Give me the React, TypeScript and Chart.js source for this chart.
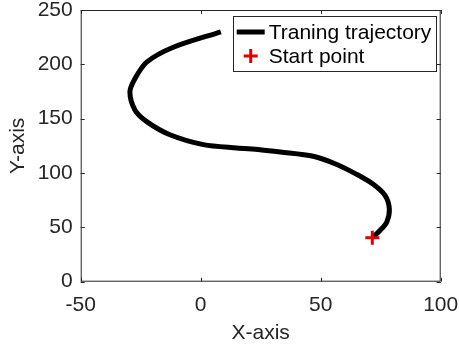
import React, { useEffect, useRef } from "react";
import { Chart, registerables } from "chart.js";

Chart.register(...registerables);

const trajX = [71.5, 74.7, 77.5, 78.6, 76.8, 71.9, 65.0, 56.7, 46.9, 33.2, 24.7, 15.0, 1.1, -12.8, -22.5, -27.4, -29.5, -27.4, -22.5, -11.4, 8.4];
const trajY = [40.4, 47.1, 54.7, 66.9, 79.4, 89.7, 98.8, 107.9, 115.4, 119.4, 121.5, 123.0, 126.1, 135.2, 147.3, 158.0, 174.7, 186.8, 202.0, 215.7, 229.9];
const startX = [71.5];
const startY = [40.4];
const xTicks = [-50, 0, 50, 100];
const yTicks = [0, 50, 100, 150, 200, 250];
const legendLabels = ["Traning trajectory", "Start point"];

const FONT = "'Liberation Sans', Arial, Helvetica, sans-serif";
const AXIS = "#262626";
const RED = "#e00000";

const boxPlugin = {
  id: "matlabBox",
  afterDraw(chart: any) {
    const { ctx, chartArea } = chart;
    const { left, right, top, bottom } = chartArea;
    const xs = chart.scales.x;
    const ys = chart.scales.y;
    ctx.save();
    ctx.strokeStyle = AXIS;
    ctx.lineWidth = 1;
    ctx.strokeRect(left + 0.5, top + 0.5, right - left - 1, bottom - top - 1);
    const tl = 4;
    ctx.beginPath();
    xTicks.forEach((v) => {
      const px = Math.round(xs.getPixelForValue(v)) + 0.5;
      ctx.moveTo(px, bottom);
      ctx.lineTo(px, bottom - tl);
      ctx.moveTo(px, top);
      ctx.lineTo(px, top + tl);
    });
    yTicks.forEach((v) => {
      const py = Math.round(ys.getPixelForValue(v)) + 0.5;
      ctx.moveTo(left, py);
      ctx.lineTo(left + tl, py);
      ctx.moveTo(right, py);
      ctx.lineTo(right - tl, py);
    });
    ctx.stroke();

    // legend
    const bw = 203;
    const bh = 55;
    const bx = right - 5 - bw;
    const by = top + 6;
    ctx.fillStyle = "#ffffff";
    ctx.fillRect(bx, by, bw, bh);
    ctx.strokeStyle = AXIS;
    ctx.strokeRect(Math.round(bx) + 0.5, Math.round(by) + 0.5, bw, bh);
    const r1 = by + 16;
    const r2 = by + 40;
    ctx.strokeStyle = "#000";
    ctx.lineWidth = 5;
    ctx.beginPath();
    ctx.moveTo(bx + 4, r1);
    ctx.lineTo(bx + 32, r1);
    ctx.stroke();
    ctx.strokeStyle = RED;
    ctx.lineWidth = 3;
    ctx.beginPath();
    const cx = bx + 18;
    ctx.moveTo(cx - 7, r2);
    ctx.lineTo(cx + 7, r2);
    ctx.moveTo(cx, r2 - 7);
    ctx.lineTo(cx, r2 + 7);
    ctx.stroke();
    ctx.fillStyle = "#000";
    ctx.font = `21px ${FONT}`;
    ctx.textBaseline = "middle";
    ctx.textAlign = "left";
    ctx.fillText(legendLabels[0], bx + 36, r1 + 1);
    ctx.fillText(legendLabels[1], bx + 36, r2 + 1);
    ctx.restore();
  },
};

export default function App() {
  const ref = useRef<HTMLCanvasElement | null>(null);
  useEffect(() => {
    document.body.style.margin = "0";
    document.body.style.overflow = "hidden";
    const canvas = ref.current!;
    const chart = new Chart(canvas, {
      type: "scatter",
      data: {
        datasets: [
          {
            label: legendLabels[0],
            data: trajX.map((x, i) => ({ x, y: trajY[i] })),
            showLine: true,
            borderColor: "#000",
            backgroundColor: "#000",
            borderWidth: 5,
            pointRadius: 0,
            tension: 0.3,
            borderCapStyle: "butt",
            borderJoinStyle: "round",
            order: 1,
          },
          {
            label: legendLabels[1],
            data: startX.map((x, i) => ({ x, y: startY[i] })),
            showLine: false,
            pointStyle: "cross",
            pointRadius: 7,
            pointBorderWidth: 3,
            borderColor: RED,
            backgroundColor: RED,
            order: 0,
          },
        ],
      },
      options: {
        responsive: false,
        animation: false,
        devicePixelRatio: 1,
        layout: { padding: { top: 7.3, right: 18.3, left: 0, bottom: 0 } },
        plugins: { legend: { display: false }, tooltip: { enabled: false } },
        scales: {
          x: {
            type: "linear",
            min: -50,
            max: 100,
            afterBuildTicks: (s: any) => {
              s.ticks = xTicks.map((v) => ({ value: v }));
            },
            afterFit: (s: any) => {
              s.height = 69.3;
              s.paddingLeft = 0;
              s.paddingRight = 0;
            },
            grid: { display: false, drawTicks: false },
            border: { display: false },
            ticks: {
              padding: 11,
              color: AXIS,
              font: { family: FONT, size: 21 },
              maxRotation: 0,
              autoSkip: false,
            },
            title: {
              display: true,
              text: "X-axis",
              color: AXIS,
              font: { family: FONT, size: 21 },
              padding: { top: 0, bottom: 5 },
            },
          },
          y: {
            type: "linear",
            min: 0,
            max: 250,
            afterBuildTicks: (s: any) => {
              s.ticks = yTicks.map((v) => ({ value: v }));
            },
            afterFit: (s: any) => {
              s.width = 80.7;
              s.paddingTop = 0;
              s.paddingBottom = 0;
            },
            grid: { display: false, drawTicks: false },
            border: { display: false },
            ticks: {
              padding: 8,
              color: AXIS,
              font: { family: FONT, size: 21 },
              autoSkip: false,
            },
            title: {
              display: true,
              text: "Y-axis",
              color: AXIS,
              font: { family: FONT, size: 21 },
              padding: { top: 6, bottom: 0 },
            },
          },
        },
      },
      plugins: [boxPlugin],
    } as any);
    return () => chart.destroy();
  }, []);
  return (
    <div style={{ width: 459, height: 351 }}>
      <canvas ref={ref} width={459} height={351} style={{ display: "block", width: 459, height: 351 }} />
    </div>
  );
}
